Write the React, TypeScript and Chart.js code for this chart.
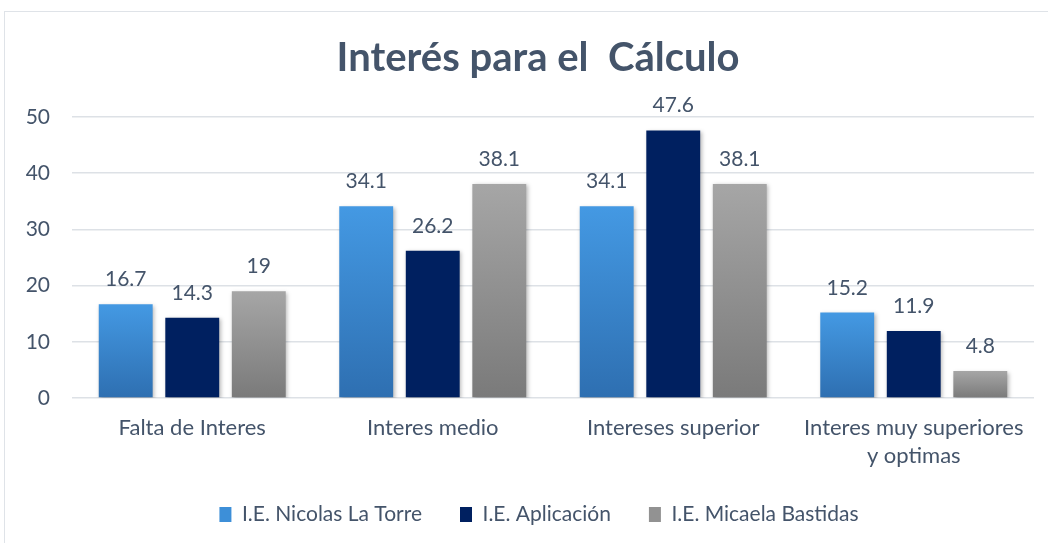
import React, { useEffect, useRef } from "react";
import { Chart, registerables } from "chart.js";

Chart.register(...registerables);

const titleText = "Interés para el  Cálculo";
const categories: (string | string[])[] = [
  "Falta de Interes",
  "Interes medio",
  "Intereses superior",
  ["Interes muy superiores", "y optimas"],
];
const seriesNames = ["I.E. Nicolas La Torre", "I.E. Aplicación", "I.E. Micaela Bastidas"];
const nicolasValues = [16.7, 34.1, 34.1, 15.2];
const aplicacionValues = [14.3, 26.2, 47.6, 11.9];
const micaelaValues = [19, 38.1, 38.1, 4.8];
const yTicks = [0, 10, 20, 30, 40, 50];

const TEXT = "#44546a";
const FONT = "Lato, 'Open Sans', sans-serif";

function gradientFill(top: string, bottom: string, solid: string) {
  return (ctx: any) => {
    const chart = ctx.chart;
    const yScale = chart.scales && chart.scales.y;
    if (ctx.type !== "data" || !yScale || !chart.chartArea) return solid;
    const v = ctx.parsed ? ctx.parsed.y : ctx.raw;
    const y0 = yScale.getPixelForValue(v);
    const y1 = yScale.getPixelForValue(0);
    if (!isFinite(y0) || !isFinite(y1) || y0 === y1) return solid;
    const g = chart.ctx.createLinearGradient(0, y0, 0, y1);
    g.addColorStop(0, top);
    g.addColorStop(1, bottom);
    return g;
  };
}

const legendSolid = ["#3d8fd8", "#002060", "#929292"];

const titlePlugin = {
  id: "fixedTitle",
  afterDraw(chart: any) {
    const c = chart.ctx;
    c.save();
    c.font = `bold 40px ${FONT}`;
    c.fillStyle = TEXT;
    c.textAlign = "center";
    c.textBaseline = "alphabetic";
    c.fillText(titleText, 538, 71);
    c.restore();
  },
};

// give axis labels room outside their layout boxes so they are not clipped
const axisRoomPlugin = {
  id: "axisRoom",
  afterLayout(chart: any) {
    const x = chart.scales.x;
    if (x) x.bottom = x.top + 95;
    const y = chart.scales.y;
    if (y) y.left = 0;
  },
};

const shadowPlugin = {
  id: "barShadow",
  beforeDatasetsDraw(chart: any) {
    const c = chart.ctx;
    c.save();
    c.shadowColor = "rgba(0,0,0,0.28)";
    c.shadowBlur = 4;
    c.shadowOffsetX = 1.5;
    c.shadowOffsetY = 1.5;
  },
  afterDatasetsDraw(chart: any) {
    chart.ctx.restore();
  },
};

const labelPlugin = {
  id: "valueLabels",
  afterDatasetsDraw(chart: any) {
    const c = chart.ctx;
    c.save();
    c.font = `21px ${FONT}`;
    c.fillStyle = TEXT;
    c.textAlign = "center";
    c.textBaseline = "alphabetic";
    chart.data.datasets.forEach((ds: any, i: number) => {
      const meta = chart.getDatasetMeta(i);
      meta.data.forEach((bar: any, j: number) => {
        c.fillText(String(ds.data[j]), bar.x, bar.y - 18);
      });
    });
    c.restore();
  },
};

export default function App() {
  const ref = useRef<HTMLCanvasElement | null>(null);
  useEffect(() => {
    if (!ref.current) return;
    const chart = new Chart(ref.current, {
      type: "bar",
      data: {
        labels: categories,
        datasets: [
          {
            label: seriesNames[0],
            data: nicolasValues,
            backgroundColor: gradientFill("#4499e3", "#2e6fb1", legendSolid[0]),
          },
          {
            label: seriesNames[1],
            data: aplicacionValues,
            backgroundColor: "#002060",
          },
          {
            label: seriesNames[2],
            data: micaelaValues,
            backgroundColor: gradientFill("#a6a6a6", "#7a7a7a", legendSolid[2]),
          },
        ],
      },
      options: {
        animation: false,
        responsive: false,
        maintainAspectRatio: false,
        layout: { padding: { top: 117, right: 14, left: 44, bottom: 10 } },
        datasets: { bar: { categoryPercentage: 0.83, barPercentage: 0.81 } },
        plugins: {
          title: { display: false },
          tooltip: { enabled: false },
          legend: {
            position: "bottom",
            maxHeight: 67,
            labels: {
              boxWidth: 12,
              boxHeight: 15,
              padding: 38,
              color: TEXT,
              font: { family: FONT, size: 21 },
              generateLabels: (ch: any) =>
                ch.data.datasets.map((ds: any, i: number) => ({
                  text: ds.label,
                  fillStyle: legendSolid[i],
                  strokeStyle: legendSolid[i],
                  lineWidth: 0,
                  fontColor: TEXT,
                  datasetIndex: i,
                  hidden: false,
                })),
            },
          },
        },
        scales: {
          x: {
            grid: { display: false, drawTicks: false },
            border: { display: false },
            ticks: {
              color: TEXT,
              font: { family: FONT, size: 22, lineHeight: 1.27 },
              padding: 16,
              maxRotation: 0,
              autoSkip: false,
            },
            afterFit: (s: any) => {
              s.height = 68;
            },
          },
          y: {
            min: 0,
            max: 50,
            afterBuildTicks: (s: any) => {
              s.ticks = yTicks.map((v) => ({ value: v }));
            },
            grid: { color: "#dde1e6", lineWidth: 1.5, drawTicks: false },
            border: { display: false },
            ticks: {
              color: TEXT,
              font: { family: FONT, size: 21 },
              padding: 22,
            },
            afterFit: (s: any) => {
              s.width = 28;
            },
          },
        },
      },
      plugins: [axisRoomPlugin, shadowPlugin, labelPlugin, titlePlugin],
    });
    return () => chart.destroy();
  }, []);
  return (
    <div style={{ position: "fixed", left: 0, top: 0, width: 1048, height: 543, background: "#fff" }}>
      <div
        style={{
          position: "absolute",
          left: 4,
          top: 11,
          width: 1060,
          height: 560,
          border: "1.5px solid #dfe3e8",
          boxSizing: "border-box",
        }}
      />
      <canvas ref={ref} width={1048} height={543} style={{ position: "absolute", left: 0, top: 0 }} />
    </div>
  );
}
